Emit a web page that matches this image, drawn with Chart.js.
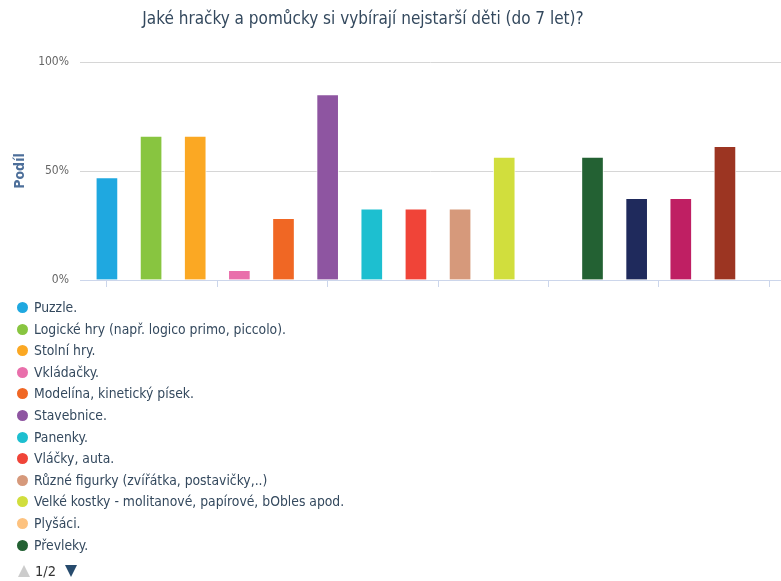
<!DOCTYPE html>
<html lang="cs">
<head>
<meta charset="utf-8">
<title>Jaké hračky a pomůcky si vybírají nejstarší děti</title>
<script src="https://cdn.jsdelivr.net/npm/chart.js@4/dist/chart.umd.min.js"></script>
<style>
  html, body { margin: 0; padding: 0; background: #fff; }
  #wrap { position: relative; width: 781px; height: 581px; overflow: hidden; }
  #wrap canvas { position: absolute; left: 0; top: 0; }
  #title {
    position: absolute; left: 0; top: 8px; width: 726px; text-align: center;
    font: 17px "DejaVu Sans Condensed", "DejaVu Sans", sans-serif; color: #34495e;
  }
  #legend { position: absolute; left: 17px; top: 297px; margin: 0; padding: 0; list-style: none;
    font: 13.8px "DejaVu Sans Condensed", "DejaVu Sans", sans-serif; color: #34495e; }
  #legend li { height: 21.6px; line-height: 21.6px; white-space: nowrap; }
  #legend .dot { display: inline-block; width: 11px; height: 11px; border-radius: 50%;
    vertical-align: -1px; margin-right: 6px; }
  #pager { position: absolute; left: 18px; top: 562px; height: 16px;
    font: 14.5px "DejaVu Sans Condensed", "DejaVu Sans", sans-serif; color: #333; line-height: 16px; }
  #pager span { display: inline-block; vertical-align: middle; }
  .up { width: 0; height: 0; border-left: 6.5px solid transparent; border-right: 6.5px solid transparent;
    border-bottom: 12px solid #cccccc; margin-right: 5px; }
  .down { width: 0; height: 0; border-left: 6.5px solid transparent; border-right: 6.5px solid transparent;
    border-top: 12px solid #274b6d; margin-left: 9px; }
</style>
</head>
<body>
<div id="wrap">
  <canvas id="chart" width="781" height="581"></canvas>
  <div id="title">Jaké hračky a pomůcky si vybírají nejstarší děti (do 7 let)?</div>
  <ul id="legend"></ul>
  <div id="pager"><span class="up"></span><span>1/2</span><span class="down"></span></div>
</div>
<script>
// Survey answers: share of respondents choosing each toy type
const seriesNames = [
  'Puzzle.',
  'Logické hry (např. logico primo, piccolo).',
  'Stolní hry.',
  'Vkládačky.',
  'Modelína, kinetický písek.',
  'Stavebnice.',
  'Panenky.',
  'Vláčky, auta.',
  'Různé figurky (zvířátka, postavičky,..)',
  'Velké kostky - molitanové, papírové, bObles apod.',
  'Plyšáci.',
  'Převleky.',
  'Hudební nástroje.',
  'Knížky.',
  'Výtvarné potřeby.'
];
const seriesValues = [47, 66, 66, 4.4, 28.3, 85, 32.6, 32.6, 32.6, 56.4, 0, 56.4, 37.5, 37.5, 61.3];
const seriesColors = [
  '#1fa8e0', '#88c540', '#fba823', '#e96fab', '#f06724', '#8e55a1', '#1dbfd0', '#f04438',
  '#d6997b', '#d1de3d', '#fdc27f', '#236133', '#1f2a5c', '#bf1f63', '#9c3522'
];
const yTickValues = [0, 50, 100];
const xTickValues = [0, 2.5, 5, 7.5, 10, 12.5, 15];
const legendPageSize = 12;

const fontFamily = '"DejaVu Sans Condensed", "DejaVu Sans", sans-serif';

const datasets = seriesNames.map((name, i) => ({
  label: name,
  data: [{ x: i, y: seriesValues[i] }],
  backgroundColor: seriesColors[i],
  borderColor: 'rgba(255,255,255,0.75)',
  borderWidth: 1,
  borderSkipped: 'start',
  barThickness: 22,
  grouped: false
}));

new Chart(document.getElementById('chart'), {
  type: 'bar',
  data: { datasets },
  options: {
    responsive: false,
    animation: false,
    layout: { padding: { top: 62, right: 0, bottom: 291, left: 0 } },
    plugins: { legend: { display: false }, title: { display: false }, tooltip: { enabled: false } },
    scales: {
      x: {
        type: 'linear',
        offset: false,
        min: -0.61,
        max: 15.27,
        afterBuildTicks: (scale) => { scale.ticks = xTickValues.map(v => ({ value: v })); },
        afterFit: (scale) => { scale.height = 10; },
        ticks: { display: false },
        grid: { offset: false, drawOnChartArea: false, drawTicks: true, tickLength: 7, color: '#ccd6eb' },
        border: { display: true, color: '#ccd6eb', width: 1 }
      },
      y: {
        min: 0,
        max: 100,
        afterBuildTicks: (scale) => { scale.ticks = yTickValues.map(v => ({ value: v })); },
        afterFit: (scale) => { scale.width = 80; },
        ticks: {
          padding: 11,
          color: '#666666',
          font: { family: fontFamily, size: 12 },
          callback: (v) => v + '%'
        },
        grid: {
          drawTicks: false,
          color: (ctx) => (ctx.tick && ctx.tick.value === 0 ? 'rgba(0,0,0,0)' : '#d6d6d6'),
          lineWidth: 1
        },
        border: { display: false },
        title: {
          display: true,
          text: 'Podíl',
          color: '#4d6f9a',
          padding: { top: 12, bottom: 0 },
          font: { family: fontFamily, size: 14, weight: 'bold' }
        }
      }
    }
  }
});

// First legend page, one entry per line
const legend = document.getElementById('legend');
seriesNames.slice(0, legendPageSize).forEach((name, i) => {
  const li = document.createElement('li');
  const dot = document.createElement('span');
  dot.className = 'dot';
  dot.style.background = seriesColors[i];
  li.appendChild(dot);
  li.appendChild(document.createTextNode(name));
  legend.appendChild(li);
});
</script>
</body>
</html>
